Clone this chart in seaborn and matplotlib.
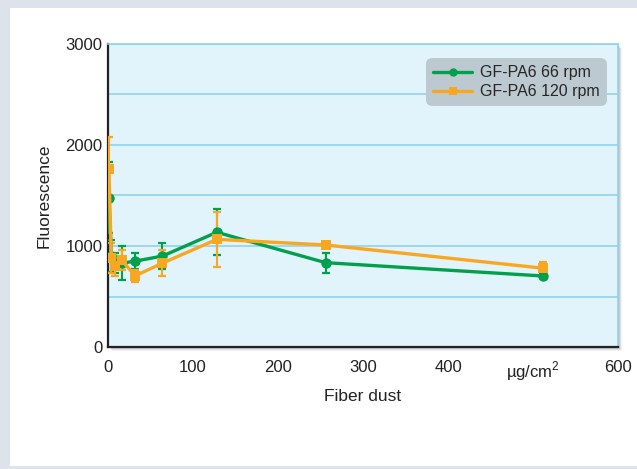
import numpy as np
import pandas as pd
import matplotlib
matplotlib.use("Agg")
import matplotlib.pyplot as plt
from matplotlib.patches import Rectangle
import seaborn as sns

# data
dust = [1, 4, 8, 16, 32, 64, 128, 256, 512]
rpm66 = [1480, 900, 830, 830, 850, 900, 1136, 835, 703]
rpm66_err = [350, 160, 100, 170, 80, 130, 230, 100, 20]
rpm120 = [1760, 880, 800, 860, 705, 830, 1066, 1010, 780]
rpm120_err = [320, 150, 100, 100, 60, 130, 270, 20, 65]
series = ["GF-PA6 66 rpm", "GF-PA6 120 rpm"]
x_ticks = [0, 100, 200, 300, 400, 500, 600]
x_labels = ["0", "100", "200", "300", "400", "µg/cm$^2$", "600"]
y_ticks = [0, 1000, 2000, 3000]

green = "#00a04c"
orange = "#f8a722"
grid_blue = "#8fd3f0"

sns.set_theme(style="white")
plt.rcParams["font.family"] = ["Liberation Sans", "DejaVu Sans"]
plt.rcParams["mathtext.fontset"] = "custom"
plt.rcParams["mathtext.rm"] = "Liberation Sans"

fig = plt.figure(figsize=(6.37, 4.69), dpi=100)
fig.patch.set_facecolor("#dce3ea")
W, H = 637, 469
# white card inside the light frame
fig.patches.append(Rectangle((10 / W, 3 / H), (W - 10) / W, (H - 11) / H,
                             transform=fig.transFigure, facecolor="white",
                             edgecolor="none", zorder=-3))

ax_l, ax_r, ax_t, ax_b = 108, 618, 44, 347
pos = [ax_l / W, 1 - ax_b / H, (ax_r - ax_l) / W, (ax_b - ax_t) / H]
# soft shadow behind the plot area
for k, a in zip(range(4, 0, -1), [0.05, 0.07, 0.09, 0.12]):
    fig.patches.append(Rectangle(((ax_l + k) / W, 1 - (ax_b + k) / H),
                                 (ax_r - ax_l) / W, (ax_b - ax_t) / H,
                                 transform=fig.transFigure, facecolor="black",
                                 edgecolor="none", alpha=a, zorder=-2))
ax = fig.add_axes(pos)
ax.set_facecolor("#e1f3fb")

df = pd.DataFrame({
    "dust": dust * 2,
    "value": rpm66 + rpm120,
    "err": rpm66_err + rpm120_err,
    "series": [series[0]] * len(dust) + [series[1]] * len(dust),
})

for s, c in zip(series, [green, orange]):
    d = df[df["series"] == s]
    ax.errorbar(d["dust"], d["value"], yerr=d["err"], fmt="none", ecolor=c,
                elinewidth=1.5, capsize=2.6, capthick=1.6, zorder=3)

sns.lineplot(data=df, x="dust", y="value", hue="series", style="series",
             hue_order=series, style_order=series,
             palette=[green, orange], markers={series[0]: "o", series[1]: "s"},
             dashes=False, linewidth=2.4, markersize=7.5, markeredgewidth=0,
             ax=ax, zorder=4)

ax.set_xlim(0, 600)
ax.set_ylim(0, 3000)
ax.set_yticks(y_ticks)
ax.set_yticks([500, 1500, 2500], minor=True)
ax.yaxis.grid(True, which="both", color=grid_blue, linewidth=1.2)
ax.set_axisbelow(True)
ax.set_xticks(x_ticks)
ax.set_xticklabels(x_labels)
ax.tick_params(axis="x", direction="in", length=5, width=1.2, color=grid_blue,
               labelsize=12, pad=9)
ax.tick_params(axis="y", length=0, labelsize=12, pad=4)
ax.tick_params(axis="y", which="minor", length=0)
for lab in ax.get_xticklabels() + ax.get_yticklabels():
    lab.set_color("#222222")

for side in ["top", "right"]:
    ax.spines[side].set_color(grid_blue)
    ax.spines[side].set_linewidth(1.2)
for side in ["left", "bottom"]:
    ax.spines[side].set_color("#222222")
    ax.spines[side].set_linewidth(1.6)

ax.set_xlabel("Fiber dust", fontsize=12.5, color="#222222", labelpad=4)
ax.set_ylabel("Fluorescence", fontsize=12.5, color="#222222", labelpad=10)

leg = ax.legend(loc="upper right", fontsize=11.5, frameon=True, fancybox=True,
                facecolor="#bcc9d1", edgecolor="none", framealpha=1,
                handlelength=2.4, handletextpad=0.5, borderpad=0.35,
                labelspacing=0.25, bbox_to_anchor=(0.99, 0.975))
leg.get_frame().set_boxstyle("round,pad=0.1,rounding_size=0.4")
for h in leg.legend_handles:
    h.set_markersize(6)

fig.savefig("out.png", dpi=100, facecolor=fig.get_facecolor())
